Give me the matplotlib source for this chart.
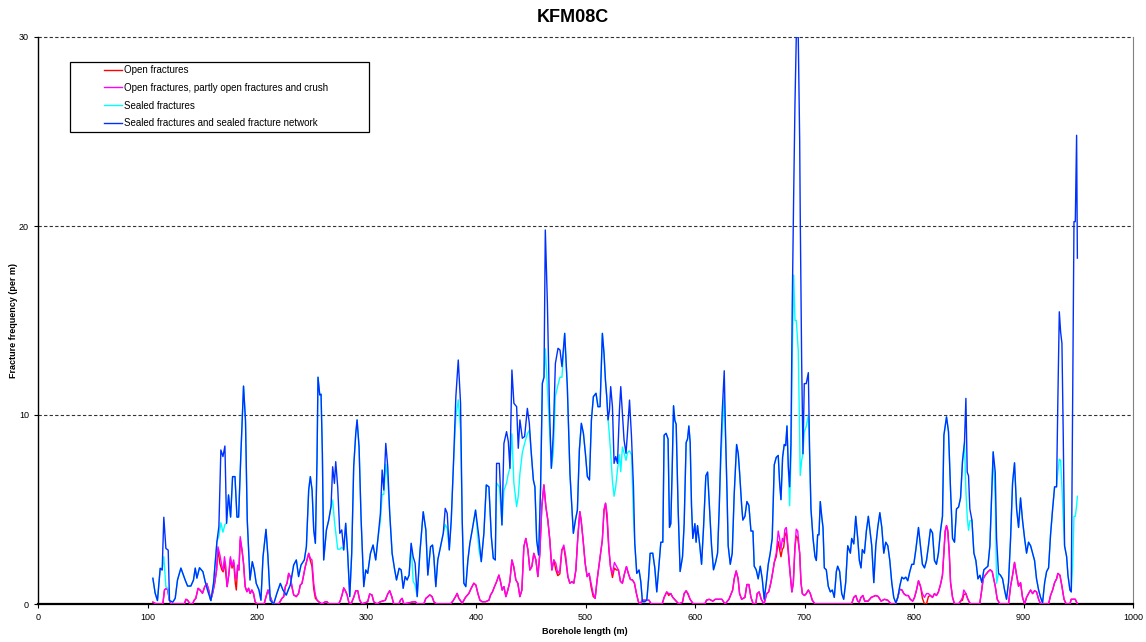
import matplotlib
matplotlib.use('Agg')
import matplotlib.pyplot as plt
from matplotlib.patches import Rectangle

plt.rcParams['font.family'] = ['Liberation Sans', 'DejaVu Sans']

title = 'KFM08C'
xlabel = 'Borehole length (m)'
ylabel = 'Fracture frequency (per m)'
labels = ['Open fractures', 'Open fractures, partly open fractures and crush',
          'Sealed fractures', 'Sealed fractures and sealed fracture network']
x_ticks = [0, 100, 200, 300, 400, 500, 600, 700, 800, 900, 1000]
y_ticks = [0, 10, 20, 30]

# Borehole length grid for sealed series (m)
sealed_x = [
    104.9, 107, 109.1, 111.6, 113.4, 114.9, 116.8, 118.9, 120.1, 123.1,
    125.3, 127.4, 130.5, 133, 134.4, 136.6, 139.6, 142, 143.6, 145.1,
    147.5, 150.6, 152.7, 154.8, 157.9, 160.3, 163.4, 165.2, 167, 168.9,
    170.7, 172.2, 174, 175.9, 177.7, 179.9, 181.7, 183.2, 185.3, 187.7,
    189.5, 191.1, 193.6, 195.7, 197.5, 199.3, 201.8, 203.6, 205.5, 208.2,
    210, 212.1, 215.2, 218.2, 221.3, 223.7, 226.7, 228.9, 230.4, 233.5,
    235.9, 238, 240.2, 243.2, 245.1, 247.2, 248.7, 250.3, 251.8, 253.3,
    254.8, 255.7, 257.3, 258.5, 259.7, 260.9, 263.4, 265.5, 267.6, 269.1,
    270.7, 271.9, 273.7, 275.6, 277.4, 279.2, 281, 282.8, 284.7, 286.5,
    288.3, 290.2, 291.4, 293.2, 295.1, 297.5, 299.3, 301.1, 303.6, 306,
    308.4, 310.3, 312.7, 314.3, 315.8, 317.6, 319.4, 321.2, 323.4, 325.5,
    327.4, 329.8, 331.7, 333.5, 335.3, 337.1, 338.9, 340.8, 342.6, 344.4,
    346.3, 348.7, 351.8, 354.2, 356, 358.5, 360.3, 361.5, 363.3, 365.1,
    367.6, 370.1, 371.9, 373.7, 375.6, 377.4, 379.2, 381.6, 383.8, 385.9,
    387.4, 388.9, 390.7, 392.6, 394.4, 396.5, 399.6, 402.6, 404.8, 407.2,
    409.4, 411.8, 414, 415.8, 417.6, 418.8, 421.3, 423.7, 425.5, 427.9,
    429.5, 431, 432.8, 434.6, 437.1, 438.6, 440.1, 442.3, 444.4, 446.9,
    448.7, 450.5, 452.4, 453.8, 455.4, 457.2, 459, 460.6, 462.1, 463.3,
    465.2, 467, 468.8, 470.6, 472.5, 474.9, 476.7, 478.5, 481, 483.4,
    485.8, 488.9, 490.8, 492.6, 494.4, 496.2, 498.1, 499.9, 501.7, 503.6,
    505.4, 507.2, 509.6, 511.4, 513.3, 515.4, 516.9, 518.2, 519.4, 520.6,
    521.9, 523, 524.6, 526.1, 527.6, 529.2, 531, 532.2, 533.7, 535.2,
    537, 538.3, 540.2, 542, 543.8, 545, 546.8, 548.9, 550.5, 552,
    554.1, 556, 557.5, 559, 561.4, 563.3, 565.1, 567.2, 568.8, 570.6,
    571.8, 573.6, 575.4, 576.7, 577.9, 579.1, 580.4, 581.6, 582.8, 584.6,
    586.4, 588.6, 590.1, 591.9, 593.2, 594.4, 595.6, 596.8, 598, 599.9,
    601, 602.3, 604.2, 606, 607.8, 609.9, 611.5, 612.9, 615.1, 616.9,
    618.8, 620.6, 622.1, 623.6, 624.8, 626.7, 627.9, 629.2, 630.3, 632.2,
    634, 635.8, 638, 639.5, 640.7, 642.6, 643.7, 645.6, 647.4, 649.2,
    651.1, 652.9, 654.1, 655.9, 657.7, 659.6, 661.4, 663.2, 665.1, 666.9,
    668.7, 670.5, 672.4, 674.2, 676, 677.3, 678.5, 680, 681.5, 682.8,
    684, 685.2, 686.4, 687.6, 688.8, 690.1, 691.3, 692.5, 694.3, 695.6,
    696.1, 697.4, 698.6, 699.8, 701.6, 703.5, 704.7, 705.9, 707.8, 709.6,
    710.8, 712, 713.2, 714.4, 715.7, 716.9, 718.1, 719.9, 721.7, 723.6,
    725.4, 727.2, 729.1, 730.3, 732.1, 734, 735.8, 737.6, 739.5, 741.9,
    743.1, 745, 746.8, 748.6, 750.1, 751.6, 752.8, 754.7, 756.5, 758.3,
    760.2, 761.4, 763.3, 765.1, 766.9, 768.8, 770.6, 772.4, 774.2, 776.1,
    777.9, 779.7, 781.5, 783.4, 785.2, 787, 788.9, 790.7, 792.5, 794.3,
    796.2, 798, 799.8, 801.7, 802.9, 804.1, 805.9, 807.7, 809.6, 811.4,
    813.2, 815, 816.9, 818.7, 820.5, 822.3, 824.2, 826, 827.3, 829.7,
    831.5, 833.4, 835.2, 837, 838.8, 840.7, 842.5, 844.3, 846.1, 847.4,
    848.6, 849.8, 851, 852.9, 854.7, 856.5, 858.4, 860.2, 862, 863.8,
    865.7, 867.5, 869.3, 871.1, 872.3, 874.2, 875.4, 877.2, 879, 880.9,
    882.7, 884.5, 886.3, 888.2, 890, 891.8, 893.7, 895.5, 897.3, 899.1,
    901, 902.8, 904.6, 906.5, 908.3, 910.1, 911.9, 913.8, 915.6, 917.4,
    919.3, 921.1, 922.9, 924.7, 926.6, 928.4, 930.2, 931.4, 932.7, 933.9,
    935.1, 936.3, 937.5, 939.4, 940.6, 942.4, 943.6, 944.9, 946.1, 947.3,
    948.5, 949.2]

# Sealed fractures and sealed fracture network (blue)
sealed_network = [
    1.36, 0.57, 0.18, 1.89, 1.8, 4.59, 2.94, 2.85, 0.18, 0.1,
    0.3, 1.27, 1.9, 1.5, 1.27, 0.95, 0.95, 1.27, 1.9, 1.37,
    1.92, 1.71, 1.18, 0.74, 0.18, 1.09, 3.3, 4.1, 8.15, 7.8,
    8.36, 4.27, 5.77, 4.6, 6.74, 6.74, 4.6, 4.6, 7.97, 11.53,
    9.7, 4.44, 1.27, 2.24, 1.8, 1.09, 0.74, 0.2, 2.5, 3.95,
    2.5, 0.2, 0, 0.57, 1.09, 0.74, 0.47, 0.8, 1.0, 2.06,
    2.33, 1.45, 2.06, 2.33, 3.03, 6.03, 6.74, 6.03, 3.92, 3.21,
    7.6, 12.0, 11.06, 11.1, 7.97, 2.33, 3.92, 4.44, 5.15, 7.26,
    6.38, 7.53, 6.2, 3.74, 3.92, 2.86, 4.27, 2.68, 0.39, 2.68,
    7.26, 9.03, 9.74, 8.32, 4.44, 0.92, 1.8, 1.62, 2.68, 3.12,
    2.33, 3.39, 4.8, 7.09, 6.03, 8.5, 7.26, 4.8, 2.68, 1.89,
    1.27, 1.89, 1.8, 0.83, 1.45, 1.27, 1.53, 3.21, 2.5, 2.15,
    0.39, 2.68, 4.88, 3.92, 1.53, 3.03, 3.12, 2.5, 0.92, 2.33,
    3.03, 3.74, 5.06, 4.8, 2.86, 4.44, 7.09, 10.97, 12.91, 10.62,
    4.44, 1.1, 0.92, 2.33, 3.21, 3.9, 4.97, 3.56, 2.24, 3.74,
    6.3, 6.2, 3.56, 2.42, 2.33, 7.44, 7.44, 4.18, 8.5, 9.12,
    8.6, 7.18, 12.38, 10.62, 10.44, 8.24, 9.74, 8.77, 8.86, 10.35,
    9.56, 7.97, 6.56, 6.2, 3.39, 2.59, 6.2, 11.68, 12.0, 19.79,
    15.91, 10.62, 7.18, 9.03, 12.73, 13.53, 13.44, 12.56, 14.32, 11.5,
    6.91, 3.74, 4.44, 4.97, 8.15, 9.56, 9.03, 7.97, 6.74, 6.56,
    9.74, 10.97, 11.15, 10.44, 10.44, 14.32, 13.26, 11.85, 10.97, 9.74,
    10.26, 11.5, 10.44, 7.44, 7.8, 7.44, 10.26, 11.5, 10.09, 8.68,
    7.97, 9.03, 10.79, 8.86, 6.2, 3.21, 1.62, 1.8, 1.18, 0.12,
    0.12, 0.21, 1.27, 2.68, 2.69, 1.91, 0.64, 2.1, 3.27, 3.27,
    8.93, 9.03, 8.73, 4.05, 4.25, 6.98, 10.49, 9.71, 9.51, 5.03,
    1.72, 2.5, 4.25, 8.54, 8.73, 9.42, 8.54, 5.22, 3.47, 4.25,
    3.27, 4.15, 3.18, 2.1, 4.05, 6.78, 6.98, 5.42, 3.08, 1.81,
    2.2, 2.69, 5.03, 8.15, 10.1, 12.34, 8.93, 6.0, 3.08, 2.1,
    2.69, 5.81, 8.44, 7.95, 6.98, 5.22, 4.44, 4.64, 5.42, 5.22,
    3.86, 3.86, 2.0, 1.81, 1.33, 2.0, 1.33, 0.25, 1.13, 2.1,
    2.69, 3.47, 7.37, 7.76, 7.86, 6.39, 5.52, 7.76, 8.44, 8.38,
    9.42, 7.27, 6.2, 8.44, 15.75, 21.6, 26.47, 30, 30, 24.5,
    20.6, 12.83, 7.95, 11.66, 11.66, 12.24, 7.95, 5.03, 3.47, 2.5,
    2.3, 3.66, 3.66, 5.42, 4.64, 4.05, 1.91, 1.81, 0.94, 0.64,
    0.74, 0.35, 1.72, 2.0, 1.72, 0.55, 0.25, 1.13, 3.08, 2.69,
    3.47, 3.18, 4.64, 3.47, 2.3, 1.91, 2.88, 2.69, 3.86, 4.64,
    3.66, 3.08, 1.13, 3.08, 4.05, 4.83, 4.05, 2.69, 3.27, 3.08,
    2.3, 1.13, 0.35, 0.06, 0.35, 0.94, 1.42, 1.33, 1.42, 1.23,
    1.72, 2.1, 2.1, 2.88, 3.47, 4.05, 3.08, 2.1, 1.91, 2.3,
    3.08, 3.96, 3.76, 2.3, 2.1, 2.69, 3.86, 4.64, 8.93, 9.9,
    9.12, 6.0, 3.47, 3.27, 5.03, 5.13, 5.61, 7.56, 8.54, 10.88,
    6.98, 6.78, 5.03, 4.44, 2.69, 2.3, 1.33, 1.52, 1.13, 1.81,
    1.91, 2.0, 3.08, 6.0, 8.05, 6.98, 3.47, 1.62, 1.52, 1.33,
    0.74, 0.25, 1.13, 3.47, 6.39, 7.47, 5.03, 4.05, 5.61, 4.44,
    3.47, 2.69, 3.27, 3.08, 2.69, 2.3, 1.33, 0.74, 0.35, 0.06,
    1.13, 1.72, 1.91, 3.66, 5.03, 6.2, 6.2, 10.88, 15.46, 14.39,
    13.8, 8.93, 3.08, 2.5, 1.52, 0.74, 0.64, 10.88, 20.23, 20.23,
    24.8, 18.3]

# Sealed fractures (cyan)
sealed = [
    1.36, 0.57, 0.18, 1.89, 1.8, 2.5, 0.92, 0.8, 0.18, 0.1,
    0.3, 1.27, 1.9, 1.5, 1.27, 0.95, 0.95, 1.27, 1.9, 1.37,
    1.92, 1.71, 1.18, 0.74, 0.18, 1.09, 3.3, 3.6, 4.3, 3.8,
    4.2, 4.27, 5.77, 4.6, 6.74, 6.74, 4.6, 4.6, 7.97, 11.53,
    9.7, 4.44, 1.27, 2.24, 1.8, 1.09, 0.74, 0.2, 2.5, 3.95,
    2.5, 0.2, 0, 0.57, 1.09, 0.74, 0.47, 0.8, 1.0, 2.06,
    2.33, 1.45, 2.06, 2.33, 3.03, 6.03, 6.74, 6.03, 3.92, 3.21,
    7.6, 12.0, 11.06, 11.1, 7.97, 2.33, 3.92, 4.44, 5.15, 5.5,
    4.4, 3.8, 2.9, 2.9, 3.0, 2.86, 4.27, 2.68, 0.39, 2.68,
    7.26, 9.03, 9.74, 8.32, 4.44, 0.92, 1.8, 1.62, 2.68, 3.12,
    2.33, 3.39, 4.4, 5.8, 5.8, 7.4, 6.6, 4.8, 2.68, 1.89,
    1.27, 1.89, 1.8, 0.83, 1.45, 1.27, 1.53, 3.21, 1.2, 1.0,
    0.39, 2.68, 4.88, 3.92, 1.53, 3.03, 3.12, 2.5, 0.92, 2.33,
    3.03, 3.74, 4.2, 4.0, 2.86, 4.44, 7.09, 9.9, 10.8, 9.2,
    4.44, 1.1, 0.92, 2.33, 3.21, 3.9, 4.97, 2.9, 2.24, 3.74,
    6.3, 6.2, 3.56, 2.42, 2.33, 6.4, 6.2, 4.18, 6.0, 6.4,
    6.9, 7.18, 9.0, 6.4, 5.15, 5.7, 6.9, 8.0, 8.5, 9.0,
    9.2, 7.97, 6.56, 6.2, 3.39, 2.59, 6.2, 11.68, 12.0, 13.5,
    11.5, 9.4, 7.18, 8.0, 11.0, 11.6, 12.0, 12.0, 14.32, 11.5,
    6.91, 3.74, 4.44, 4.97, 8.15, 9.56, 9.03, 7.97, 6.74, 6.56,
    9.74, 10.97, 11.15, 10.44, 10.44, 14.32, 13.26, 11.85, 10.97, 9.74,
    8.9, 8.0, 6.5, 5.7, 6.2, 7.1, 7.9, 7.0, 8.3, 8.0,
    7.6, 8.0, 8.1, 7.9, 4.6, 3.21, 1.62, 1.8, 1.18, 0.12,
    0.12, 0.21, 1.27, 2.68, 2.69, 1.91, 0.64, 2.1, 3.27, 3.27,
    8.93, 9.03, 8.73, 4.05, 4.25, 6.98, 10.49, 9.71, 9.51, 5.03,
    1.72, 2.5, 4.25, 8.54, 8.73, 9.42, 8.54, 5.22, 3.47, 4.25,
    3.27, 4.15, 3.18, 2.1, 4.05, 6.78, 6.98, 5.42, 3.08, 1.81,
    2.2, 2.69, 5.03, 7.5, 9.0, 11.0, 8.93, 6.0, 3.08, 2.1,
    2.69, 5.81, 8.44, 7.95, 6.98, 5.22, 4.44, 4.64, 5.42, 5.22,
    3.86, 3.86, 2.0, 1.81, 1.33, 2.0, 1.33, 0.25, 1.13, 2.1,
    2.69, 3.47, 7.37, 7.76, 7.86, 6.39, 5.52, 7.76, 8.44, 8.38,
    9.42, 7.27, 5.2, 7.5, 13.0, 17.4, 15.0, 15.0, 13.4, 8.9,
    6.8, 7.6, 7.95, 9.1, 9.4, 10.0, 7.95, 5.03, 3.47, 2.5,
    2.3, 3.66, 3.66, 5.42, 4.64, 4.05, 1.91, 1.81, 0.94, 0.64,
    0.74, 0.35, 1.72, 2.0, 1.72, 0.55, 0.25, 1.13, 3.08, 2.69,
    3.47, 3.18, 4.64, 3.47, 2.3, 1.91, 2.88, 2.69, 3.86, 4.64,
    3.66, 3.08, 1.13, 3.08, 4.05, 4.83, 4.05, 2.69, 3.27, 3.08,
    2.3, 1.13, 0.35, 0.06, 0.35, 0.94, 1.42, 1.33, 1.42, 1.23,
    1.72, 2.1, 2.1, 2.88, 3.47, 4.05, 3.08, 2.1, 1.91, 2.3,
    3.08, 3.96, 3.76, 2.3, 2.1, 2.69, 3.86, 4.64, 8.93, 9.9,
    9.12, 6.0, 3.47, 3.27, 5.03, 5.13, 5.61, 7.56, 8.54, 6.0,
    4.6, 3.9, 4.4, 4.44, 2.69, 2.3, 1.33, 1.52, 1.13, 1.81,
    1.91, 2.0, 3.08, 6.0, 8.05, 5.5, 1.1, 1.62, 1.52, 1.33,
    0.74, 0.25, 1.13, 3.47, 6.39, 7.47, 5.03, 4.05, 5.61, 4.44,
    3.47, 2.69, 3.27, 3.08, 2.69, 2.3, 1.33, 0.74, 0.35, 0.06,
    1.13, 1.72, 1.91, 3.66, 5.03, 6.2, 6.2, 7.0, 7.66, 7.6,
    6.2, 4.5, 3.08, 2.5, 1.52, 0.74, 0.64, 2.0, 4.64, 4.64,
    5.2, 5.7]

# Borehole length grid for open series (m)
open_x = [
    104.9, 108, 114, 115.5, 117, 118.5, 120, 121.5, 133.6, 135.1,
    136.6, 139, 141.1, 142.6, 144.1, 146.2, 148, 150.2, 152.3, 154.1,
    155.9, 157.7, 159.5, 161.3, 163.1, 164.3, 166.1, 167.9, 169.1, 170.3,
    171.5, 172.7, 174.2, 175.7, 177.2, 178.7, 180.2, 181.1, 182.3, 183.5,
    184.7, 186.3, 187.7, 189.2, 190.8, 192.3, 193.8, 195.3, 196.8, 198.3,
    199.8, 206.5, 208.3, 210.1, 212.1, 214.6, 219.8, 222.8, 224.4, 225.9,
    227.4, 228.9, 230.4, 231.9, 233.5, 235.9, 238, 239.5, 241.1, 242.6,
    244.1, 245.6, 247.2, 248.7, 250.2, 251.8, 253.3, 254.8, 256.3, 259.4,
    262.4, 263.9, 265.5, 274.6, 276.2, 277.7, 279.2, 280.7, 282.2, 283.8,
    285.9, 288.3, 290.2, 292, 293.8, 295.9, 301.1, 302.9, 305, 306.6,
    309.6, 312.7, 317.2, 319.4, 321.2, 323.1, 324.9, 329.5, 331, 332.5,
    334.1, 343.2, 344.7, 346.3, 352.3, 354.2, 355.4, 357.8, 359.9, 361.5,
    363.9, 376.7, 379.2, 381.3, 382.8, 384.3, 387.4, 390.4, 393.5, 395.6,
    398, 399.9, 401.7, 403.6, 405.7, 408.7, 411.8, 413.3, 415.1, 416.9,
    418.8, 420.9, 422.4, 423.9, 425.5, 427.3, 429.1, 430.9, 432.8, 434.6,
    436.4, 438.2, 440.1, 441.9, 443.7, 445.5, 447.4, 449.2, 451, 452.8,
    454.7, 456.5, 458.3, 460.1, 462, 463.8, 465.6, 467.4, 469.3, 471.1,
    472.9, 474.7, 476.6, 478.4, 480.2, 482, 483.9, 485.7, 487.5, 489.3,
    491.2, 493, 494.8, 496, 497.8, 499.7, 501.5, 503.3, 505.1, 507,
    508.8, 510.6, 513, 515.4, 516.9, 518.3, 519.7, 521.3, 522.8, 524.6,
    526.4, 528.2, 530.1, 531.9, 533.7, 535.6, 537.4, 539.2, 541, 542.9,
    544.7, 546.5, 548.3, 550.2, 551.5, 558, 560, 570, 571.8, 574.2,
    576, 577.9, 579.7, 582, 585.2, 588.6, 590.1, 591.9, 593.7, 595.5,
    598.5, 609, 610.5, 613, 616.3, 618.5, 621, 624.5, 627.5, 631,
    634.4, 635.8, 637.6, 639.4, 640.7, 642.6, 645.6, 647.4, 649.2, 651.1,
    653.2, 655.5, 656.8, 658.6, 660.5, 663, 665.5, 667.3, 669.3, 671.1,
    672.4, 674.2, 676, 677.3, 678.5, 679.8, 681, 682.1, 683.4, 685.2,
    686.7, 688.5, 689.8, 691.3, 692.5, 693.8, 695.6, 696.8, 698, 700,
    701.6, 703.5, 705.3, 707.1, 709.6, 743, 745, 746.8, 748.6, 750,
    751.6, 753.3, 755, 758, 761, 765, 767.2, 770, 773, 776,
    779, 783, 785.2, 787, 789, 790.7, 792.8, 794.8, 796.6, 798.8,
    800.5, 802.3, 804.1, 805.9, 807.7, 809.6, 811.4, 813.2, 815, 816.9,
    818.7, 820.5, 822.3, 824.2, 826, 827.3, 828.5, 829.7, 830.9, 832.2,
    833.4, 835.2, 837, 840.7, 842.5, 844.3, 845.5, 847.4, 849.2, 851.5,
    860, 861.4, 863.2, 865, 867.8, 869.6, 871.4, 874.2, 876, 878.5,
    886.3, 888.2, 890, 891.8, 893.7, 895.5, 897.3, 899.1, 901, 902.8,
    904.6, 906.5, 908.3, 910.1, 911.9, 913.8, 915.6, 922.9, 924.7, 926.6,
    928.4, 930.2, 931.4, 933.3, 935.1, 937, 939, 942.4, 943.6, 947.3,
    949.2]

# Open fractures, partly open fractures and crush (magenta)
open_partly_crush = [
    0.1, 0, 0, 0.74, 0.83, 0.74, 0.2, 0, 0, 0.25,
    0.2, 0, 0, 0.2, 0.3, 0.83, 0.74, 0.57, 0.92, 1.09,
    0.74, 0.2, 0.57, 1.09, 1.8, 3.03, 2.6, 2.0, 1.8, 2.5,
    2.0, 0.92, 1.53, 2.5, 2.0, 2.33, 1.45, 1.3, 2.06, 1.8,
    3.56, 2.86, 2.15, 0.92, 0.65, 0.83, 0.56, 0.74, 0.56, 0.12,
    0, 0, 0.4, 0.74, 0.4, 0, 0, 0.3, 0.39, 0.92,
    1.09, 1.62, 1.45, 0.92, 0.48, 0.39, 0.56, 1.0, 1.09, 1.53,
    1.98, 2.33, 2.68, 2.42, 2.33, 1.09, 0.48, 0.21, 0.12, 0,
    0.12, 0.12, 0, 0, 0.2, 0.48, 0.85, 0.7, 0.5, 0.1,
    0, 0.35, 0.7, 0.7, 0.2, 0, 0.12, 0.53, 0.48, 0.12,
    0, 0.12, 0.2, 0.53, 0.7, 0.39, 0, 0, 0.2, 0.3,
    0, 0.12, 0.12, 0, 0, 0.3, 0.35, 0.48, 0.39, 0.12,
    0, 0, 0.18, 0.39, 0.56, 0.3, 0.04, 0.35, 0.56, 0.83,
    1.1, 1.0, 0.56, 0.2, 0.12, 0.12, 0.2, 0.48, 0.65, 0.92,
    1.18, 1.53, 1.18, 0.74, 0.92, 0.39, 0.74, 1.18, 2.33, 1.98,
    1.27, 1.1, 0.39, 0.74, 3.03, 3.47, 2.86, 1.8, 1.98, 2.68,
    2.33, 1.45, 2.68, 5.15, 6.3, 5.15, 4.44, 3.39, 1.8, 2.33,
    2.15, 1.62, 1.8, 2.86, 3.12, 2.51, 1.45, 1.1, 1.18, 1.1,
    1.8, 3.56, 4.89, 4.44, 3.39, 2.15, 1.45, 1.62, 1.1, 0.56,
    0.3, 1.27, 2.33, 3.4, 4.97, 5.33, 4.8, 3.03, 1.98, 1.6,
    2.2, 2.0, 1.8, 1.2, 1.1, 1.6, 1.98, 1.6, 1.3, 1.27,
    1.1, 0.56, 0.12, 0, 0.2, 0.2, 0, 0, 0.35, 0.64,
    0.55, 0.55, 0.35, 0.2, 0, 0.1, 0.55, 0.7, 0.55, 0.25,
    0, 0, 0.2, 0.25, 0.15, 0.25, 0.25, 0.25, 0, 0.25,
    0.74, 1.33, 1.75, 1.33, 0.55, 0.25, 0.35, 1.03, 1.03, 0.35,
    0, 0, 0.55, 0.64, 0.25, 0, 0.55, 0.64, 1.13, 1.72,
    2.2, 2.69, 3.86, 3.47, 2.88, 3.47, 3.3, 3.96, 4.05, 2.88,
    1.72, 0.64, 1.13, 3.08, 3.96, 3.86, 2.69, 1.13, 0.55, 0.45,
    0.55, 0.74, 0.55, 0.2, 0, 0, 0.35, 0.45, 0.15, 0.1,
    0.35, 0.45, 0.15, 0.15, 0.35, 0.45, 0.4, 0.15, 0.25, 0.2,
    0, 0, 0.35, 0.78, 0.74, 0.55, 0.45, 0.45, 0.25, 0.15,
    0.35, 0.74, 1.23, 0.94, 0.55, 0.35, 0.55, 0.55, 0.45, 0.35,
    0.55, 0.45, 0.64, 1.03, 1.52, 2.69, 3.86, 4.15, 3.76, 2.69,
    1.13, 0.35, 0, 0, 0.15, 0.35, 0.74, 0.55, 0.25, 0,
    0, 0.55, 1.33, 1.52, 1.72, 1.81, 1.72, 0.94, 0.25, 0,
    0, 0.94, 1.52, 2.2, 1.52, 0.94, 1.13, 0.35, 0, 0.35,
    0.55, 0.74, 0.55, 0.7, 0.64, 0.25, 0, 0, 0.45, 0.74,
    1.13, 1.33, 1.62, 1.52, 0.94, 0.25, 0, 0, 0.25, 0.25,
    0]

# Open fractures (red)
open_fr = [
    0.1, 0, 0, 0.74, 0.83, 0.74, 0.2, 0, 0, 0.25,
    0.2, 0, 0, 0.2, 0.3, 0.83, 0.74, 0.57, 0.92, 1.09,
    0.74, 0.2, 0.57, 1.09, 1.8, 2.9, 2.15, 1.8, 1.7, 2.2,
    1.6, 0.92, 1.53, 2.4, 1.9, 2.2, 1.1, 0.74, 1.9, 1.8,
    3.4, 2.86, 2.15, 0.92, 0.65, 0.83, 0.56, 0.74, 0.56, 0.12,
    0, 0, 0.4, 0.74, 0.4, 0, 0, 0.3, 0.39, 0.92,
    1.09, 1.62, 1.45, 0.92, 0.48, 0.39, 0.56, 1.0, 1.09, 1.53,
    1.98, 2.33, 2.68, 2.3, 2.0, 0.8, 0.3, 0.21, 0.12, 0,
    0.12, 0.12, 0, 0, 0.2, 0.48, 0.85, 0.7, 0.5, 0.1,
    0, 0.35, 0.7, 0.7, 0.2, 0, 0.12, 0.53, 0.48, 0.12,
    0, 0.12, 0.2, 0.53, 0.7, 0.39, 0, 0, 0.2, 0.3,
    0, 0.12, 0.12, 0, 0, 0.3, 0.35, 0.48, 0.39, 0.12,
    0, 0, 0.18, 0.39, 0.56, 0.3, 0.04, 0.35, 0.56, 0.83,
    1.1, 1.0, 0.56, 0.2, 0.12, 0.12, 0.2, 0.48, 0.65, 0.92,
    1.18, 1.53, 1.18, 0.74, 0.92, 0.39, 0.74, 1.18, 2.33, 1.9,
    1.27, 1.1, 0.39, 0.74, 3.03, 3.47, 2.86, 1.8, 1.98, 2.68,
    2.33, 1.45, 2.68, 5.15, 6.3, 5.15, 4.44, 3.39, 1.8, 2.33,
    1.8, 1.5, 1.6, 2.86, 3.0, 2.3, 1.45, 1.1, 1.18, 1.1,
    1.8, 3.56, 4.89, 4.44, 3.39, 2.15, 1.45, 1.62, 0.9, 0.4,
    0.3, 1.27, 2.33, 3.4, 4.97, 5.33, 4.44, 2.9, 1.98, 1.4,
    1.9, 1.8, 1.8, 1.2, 1.1, 1.6, 1.98, 1.6, 1.3, 1.27,
    1.1, 0.56, 0.12, 0, 0.2, 0.2, 0, 0, 0.35, 0.64,
    0.45, 0.55, 0.35, 0.2, 0, 0.1, 0.55, 0.7, 0.5, 0.25,
    0, 0, 0.2, 0.25, 0.15, 0.25, 0.25, 0.25, 0, 0.25,
    0.74, 1.33, 1.75, 1.33, 0.55, 0.25, 0.35, 1.03, 1.03, 0.35,
    0, 0, 0.55, 0.64, 0.25, 0, 0.55, 0.64, 1.13, 1.72,
    2.2, 2.5, 3.3, 2.9, 2.5, 2.9, 3.0, 3.6, 3.8, 2.7,
    1.72, 0.64, 1.13, 3.0, 3.6, 3.5, 2.69, 1.13, 0.55, 0.45,
    0.55, 0.74, 0.55, 0.2, 0, 0, 0.35, 0.45, 0.15, 0.1,
    0.35, 0.45, 0.15, 0.15, 0.35, 0.45, 0.4, 0.15, 0.25, 0.2,
    0, 0, 0.35, 0.78, 0.74, 0.55, 0.45, 0.45, 0.25, 0.15,
    0.35, 0.74, 1.23, 0.94, 0.3, 0, 0, 0.4, 0.45, 0.35,
    0.55, 0.45, 0.64, 1.03, 1.52, 2.69, 3.86, 4.15, 3.9, 2.69,
    1.13, 0.35, 0, 0, 0.15, 0.2, 0.5, 0.55, 0.25, 0,
    0, 0.55, 1.33, 1.52, 1.72, 1.81, 1.72, 0.94, 0.25, 0,
    0, 0.94, 1.52, 2.2, 1.52, 0.94, 1.13, 0.35, 0, 0.35,
    0.55, 0.74, 0.55, 0.7, 0.64, 0.25, 0, 0, 0.45, 0.74,
    1.13, 1.33, 1.62, 1.52, 0.94, 0.25, 0, 0, 0.25, 0.25,
    0]

W, H = 1146, 642
fig = plt.figure(figsize=(W / 100, H / 100), dpi=100)
ax = fig.add_axes([38 / W, 38 / H, 1095 / W, 567 / H])

lw = 1.0
ax.plot(open_x, open_fr, color='#ff0000', lw=lw, label=labels[0], zorder=3)
ax.plot(open_x, open_partly_crush, color='#ff00ff', lw=lw, label=labels[1], zorder=4)
ax.plot(sealed_x, sealed, color='#00ffff', lw=lw, label=labels[2], zorder=5)
ax.plot(sealed_x, sealed_network, color='#0030ff', lw=lw, label=labels[3], zorder=6)

ax.set_xlim(0, 1000)
ax.set_ylim(0, 30)
ax.set_xticks(x_ticks)
ax.set_yticks(y_ticks)
ax.tick_params(axis='both', labelsize=6.5, direction='out', length=3, width=0.8, colors='black')
for yv in y_ticks[1:]:
    ax.axhline(yv, color='#333333', lw=0.8, linestyle=(0, (3, 2)), zorder=1, clip_on=False)

ax.spines['top'].set_visible(False)
ax.spines['right'].set_color('#808080')
ax.spines['right'].set_linewidth(0.8)
ax.spines['left'].set_linewidth(1.0)
ax.spines['bottom'].set_linewidth(1.6)

fig.text(0.5, 1 - 18 / H, title, ha='center', va='center', fontsize=13, fontweight='bold')
fig.text(585 / W, 1 - 631 / H, xlabel, ha='center', va='center', fontsize=6.5, fontweight='bold')
fig.text(14 / W, 1 - 320 / H, ylabel, ha='center', va='center', fontsize=6.5,
         fontweight='bold', rotation=90)

# legend box
x0 = (70 - 38) / 1095
y0 = (604 - 132) / 567
ax.add_patch(Rectangle((x0, y0), (369 - 70) / 1095, (132 - 62) / 567, transform=ax.transAxes,
                       facecolor='white', edgecolor='black', lw=0.9, zorder=7))
leg = ax.legend(loc='upper left', bbox_to_anchor=((104 - 38) / 1095, (604 - 65) / 567),
                frameon=False, fontsize=7, handlelength=1.8, handletextpad=0.3,
                labelspacing=0.8, borderpad=0, borderaxespad=0)
leg.set_zorder(8)

fig.savefig('out.png', dpi=100)
